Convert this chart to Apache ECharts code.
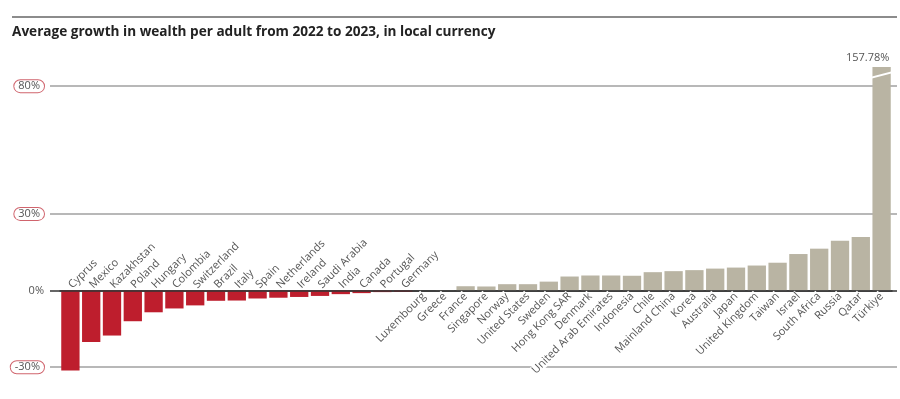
<!DOCTYPE html>
<html>
<head>
<meta charset="utf-8">
<script src="https://cdn.jsdelivr.net/npm/echarts@6/dist/echarts.min.js"></script>
<style>
  html, body { margin: 0; padding: 0; background: #fff; }
  #chart { width: 900px; height: 399px; }
</style>
</head>
<body>
<div id="chart"></div>
<script>
// countries, sorted by growth
const countries = [
  'Cyprus', 'Mexico', 'Kazakhstan', 'Poland', 'Hungary', 'Colombia', 'Switzerland', 'Brazil',
  'Italy', 'Spain', 'Netherlands', 'Ireland', 'Saudi Arabia', 'India', 'Canada', 'Portugal',
  'Germany', 'Luxembourg', 'Greece', 'France', 'Singapore', 'Norway', 'United States', 'Sweden',
  'Hong Kong SAR', 'Denmark', 'United Arab Emirates', 'Indonesia', 'Chile', 'Mainland China',
  'Korea', 'Australia', 'Japan', 'United Kingdom', 'Taiwan', 'Israel', 'South Africa', 'Russia',
  'Qatar', 'Türkiye'
]
// growth in %, local currency
const growth = [
  -31.3, -20.1, -17.6, -12.0, -8.5, -7.0, -5.8, -4.0,
  -3.9, -3.1, -2.8, -2.5, -2.1, -1.4, -1.0, -0.6,
  -0.5, 0.0, 0.1, 1.7, 1.6, 2.5, 2.5, 3.5,
  5.5, 5.9, 5.9, 5.8, 7.2, 7.6, 8.0, 8.6,
  9.0, 9.8, 10.9, 14.3, 16.4, 19.5, 21.0, 157.78
]
// gridline values shown on the left
const gridValues = [-30, 0, 30, 80]
const gridLabels = ['-30%', '0%', '30%', '80%']

const RED = '#be1e2d'
const SAND = '#b9b4a3'
const TEXT = '#555'
const FONT = 'Open Sans'

// plot frame (y range cut at the top, Türkiye is truncated)
const Y_MIN = -35
const Y_MAX = 87.5
const GRID = { left: 60, right: 8, top: 67, bottom: 19 }
const plotH = 399 - GRID.top - GRID.bottom
const zeroY = GRID.top + (Y_MAX / (Y_MAX - Y_MIN)) * plotH

const chart = echarts.init(document.getElementById('chart'))

const isAbove = i => growth[i] < -0.3

const gridMarks = gridValues.map((v, i) => {
  const zero = v === 0
  const label = {
    show: true,
    position: 'start',
    distance: 6,
    formatter: gridLabels[i],
    color: TEXT,
    fontFamily: FONT,
    fontSize: 11
  }
  if (!zero) {
    Object.assign(label, {
      borderColor: '#d0646d',
      borderWidth: 1,
      borderRadius: 8,
      padding: [1, 4, 0, 4],
      backgroundColor: '#fff'
    })
  }
  return [
    {
      x: 50,
      yAxis: v,
      label,
      lineStyle: { color: zero ? '#333' : '#a0a0a0', width: 1.5, type: 'solid' }
    },
    { x: 897, yAxis: v }
  ]
})

const labelBase = {
  interval: 0,
  margin: 4,
  color: TEXT,
  fontFamily: FONT,
  fontSize: 11
}

const option = {
  animation: false,
  title: {
    text: 'Average growth in wealth per adult from 2022 to 2023, in local currency',
    left: 7,
    top: 20,
    textStyle: { fontFamily: FONT, fontSize: 13.6, fontWeight: 'bold', color: '#222' }
  },
  grid: Object.assign({ outerBoundsMode: 'none' }, GRID),
  xAxis: [
    {
      type: 'category',
      data: countries,
      position: 'bottom',
      offset: -(GRID.top + plotH - zeroY),
      z: 3,
      axisLine: { onZero: false, lineStyle: { color: '#333', width: 1.5 } },
      axisTick: { show: false },
      axisLabel: Object.assign({}, labelBase, {
        rotate: 45,
        backgroundColor: '#fff',
        formatter: (val, i) => (isAbove(i) ? '' : val)
      })
    },
    {
      type: 'category',
      data: countries,
      position: 'top',
      offset: -(zeroY - GRID.top),
      z: 3,
      axisLine: { onZero: false, show: false },
      axisTick: { show: false },
      axisLabel: Object.assign({}, labelBase, {
        rotate: -45,
        formatter: (val, i) => (isAbove(i) ? val : '')
      })
    }
  ],
  yAxis: {
    type: 'value',
    min: Y_MIN,
    max: Y_MAX,
    axisLine: { show: false },
    axisTick: { show: false },
    axisLabel: { show: false },
    splitLine: { show: false }
  },
  series: [
    {
      type: 'bar',
      data: growth.map((v, i) => ({
        value: v,
        label: i === growth.length - 1 ? {
          show: true,
          position: 'top',
          distance: 4,
          offset: [-14, 0],
          formatter: v.toFixed(2) + '%',
          color: TEXT,
          fontFamily: FONT,
          fontSize: 11
        } : { show: false }
      })),
      barCategoryGap: '12%',
      clip: true,
      itemStyle: { color: p => (p.value < 0 ? RED : SAND) },
      markLine: {
        silent: true,
        z: 1,
        symbol: ['none', 'none'],
        data: gridMarks
      }
    }
  ]
}

chart.setOption(option)

// break marker on the truncated Türkiye bar
const last = growth.length - 1
const c0 = chart.convertToPixel({ xAxisIndex: 0 }, last - 1)
const c1 = chart.convertToPixel({ xAxisIndex: 0 }, last)
const half = (c1 - c0) * 0.46
const yA = chart.convertToPixel({ yAxisIndex: 0 }, 83.8)
const yB = chart.convertToPixel({ yAxisIndex: 0 }, 85.7)
chart.setOption({
  graphic: [
    {
      type: 'line',
      shape: { x1: 12, y1: 17, x2: 897, y2: 17 },
      style: { stroke: '#8c8c8c', lineWidth: 2 }
    },
    {
      type: 'polygon',
      z: 10,
      shape: {
        points: [
          [c1 - half, yA], [c1 + half, yB], [c1 + half, yB + 2], [c1 - half, yA + 2]
        ]
      },
      style: { fill: '#fff' }
    }
  ]
})
</script>
</body>
</html>
